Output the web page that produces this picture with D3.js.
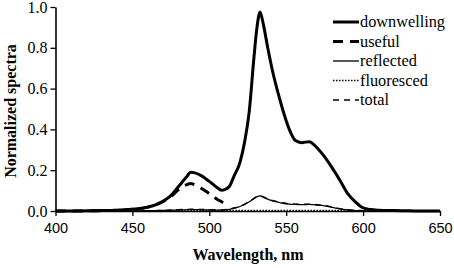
<!DOCTYPE html>
<html>
<head>
<meta charset="utf-8">
<script src="https://cdn.jsdelivr.net/npm/d3@7"></script>
<style>
  body { margin: 0; background: #fff; }
  svg { display: block; }
</style>
</head>
<body>
<div id="chart"></div>
<script>
// wavelength grid (nm) shared by every series
const wavelengths = [400, 410, 420, 430, 440, 450, 455, 460, 465, 470, 475, 480, 485, 488, 490, 495, 500, 505, 508, 510,
  513, 516, 520, 523, 526, 529, 531, 533, 535, 538, 541, 545, 548, 552, 556, 560, 565, 570, 575, 580,
  585, 590, 595, 600, 605, 610, 620, 630, 640, 650];

const downwelling = [0, 0, 0.001, 0.002, 0.004, 0.008, 0.012, 0.019, 0.03, 0.048, 0.075, 0.12, 0.165, 0.19, 0.188, 0.172, 0.145, 0.115, 0.102, 0.105,
  0.12, 0.17, 0.24, 0.34, 0.49, 0.75, 0.9, 0.975, 0.92, 0.8, 0.69, 0.57, 0.49, 0.4, 0.345, 0.335, 0.34, 0.31, 0.265, 0.21,
  0.15, 0.085, 0.045, 0.015, 0.007, 0.004, 0.002, 0.001, 0, 0];

// useful stops at 513 nm
const useful = [0, 0, 0.001, 0.002, 0.004, 0.008, 0.012, 0.019, 0.03, 0.047, 0.07, 0.105, 0.128, 0.135, 0.13, 0.11, 0.085, 0.058, 0.045, 0.036,
  0.025, null, null, null, null, null, null, null, null, null, null, null, null, null, null, null, null, null, null, null,
  null, null, null, null, null, null, null, null, null, null];

const reflected = [0, 0, 0, 0, 0.001, 0.001, 0.001, 0.002, 0.002, 0.003, 0.004, 0.005, 0.006, 0.007, 0.007, 0.006, 0.005, 0.004, 0.004, 0.005,
  0.008, 0.013, 0.022, 0.032, 0.045, 0.06, 0.07, 0.074, 0.068, 0.058, 0.05, 0.043, 0.038, 0.034, 0.032, 0.031, 0.032, 0.029, 0.025, 0.018,
  0.01, 0.005, 0.002, 0.001, 0, 0, 0, 0, 0, 0];

const fluoresced = [0, 0, 0, 0, 0, 0, 0, 0, 0, 0, 0.001, 0.002, 0.002, 0.002, 0.002, 0.002, 0.002, 0.002, 0.002, 0.002,
  0.002, 0.002, 0.002, 0.002, 0.002, 0.002, 0.002, 0.002, 0.002, 0.002, 0.002, 0.002, 0.002, 0.002, 0.002, 0.002, 0.002, 0.002, 0.002, 0.002,
  0.002, 0.002, 0.001, 0.001, 0, 0, 0, 0, 0, 0];

const total = reflected.map((v, i) => v + fluoresced[i]);

const xTicks = [400, 450, 500, 550, 600, 650];
const yTicks = [0, 0.2, 0.4, 0.6, 0.8, 1.0];

const seriesNames = ["downwelling", "useful", "reflected", "fluoresced", "total"];
const seriesValues = [downwelling, useful, reflected, fluoresced, total];

// line styles per series
const styles = {
  downwelling: { w: 3, dash: null },
  useful: { w: 3, dash: "10,7" },
  reflected: { w: 1.3, dash: null },
  fluoresced: { w: 1.5, dash: "1.5,1.5" },
  total: { w: 1.3, dash: "6,5" }
};

const width = 454, height = 268;
const margin = { top: 7, right: 14, bottom: 57, left: 55.5 };

const svg = d3.select("#chart").append("svg")
  .attr("width", width)
  .attr("height", height);

const x = d3.scaleLinear().domain([400, 650]).range([margin.left, width - margin.right]);
const y = d3.scaleLinear().domain([0, 1]).range([height - margin.bottom, margin.top]);

// lines, drawn back to front
const line = d3.line()
  .defined(d => d[1] !== null)
  .x(d => x(d[0]))
  .y(d => y(d[1]))
  .curve(d3.curveMonotoneX);

const order = ["total", "fluoresced", "reflected", "useful", "downwelling"];
order.forEach(name => {
  const vals = seriesValues[seriesNames.indexOf(name)];
  svg.append("path")
    .datum(wavelengths.map((w, i) => [w, vals[i]]))
    .attr("fill", "none")
    .attr("stroke", "#000")
    .attr("stroke-width", styles[name].w)
    .attr("stroke-dasharray", styles[name].dash)
    .attr("stroke-linejoin", "round")
    .attr("d", line);
});

// x axis
const xAxis = svg.append("g")
  .attr("transform", `translate(0,${y(0)})`)
  .call(d3.axisBottom(x).tickValues(xTicks).tickSize(5).tickSizeOuter(0).tickPadding(7));
xAxis.select(".domain").attr("stroke-width", 1.6);
xAxis.selectAll(".tick line").attr("stroke-width", 1.3);
xAxis.selectAll(".tick text")
  .style("font-family", "'Liberation Sans', Arial, sans-serif")
  .style("font-size", "14.5px")
  .attr("fill", "#000");

// y axis
const yAxis = svg.append("g")
  .attr("transform", `translate(${x(400)},0)`)
  .call(d3.axisLeft(y).tickValues(yTicks).tickFormat(d3.format(".1f")).tickSize(5).tickSizeOuter(0).tickPadding(3));
yAxis.select(".domain").attr("stroke-width", 1.6);
yAxis.selectAll(".tick line").attr("stroke-width", 1.3);
yAxis.selectAll(".tick text")
  .style("font-family", "'Liberation Serif', 'Times New Roman', serif")
  .style("font-size", "16px")
  .attr("fill", "#000");

// axis titles
svg.append("text")
  .attr("x", 248)
  .attr("y", 260)
  .attr("text-anchor", "middle")
  .style("font-family", "'Liberation Serif', 'Times New Roman', serif")
  .style("font-size", "16px")
  .style("font-weight", "bold")
  .text("Wavelength, nm");

svg.append("text")
  .attr("transform", `translate(16,${y(0.5) + 2})rotate(-90)`)
  .attr("text-anchor", "middle")
  .style("font-family", "'Liberation Serif', 'Times New Roman', serif")
  .style("font-size", "16px")
  .style("font-weight", "bold")
  .text("Normalized spectra");

// legend
const legend = svg.append("g").attr("transform", "translate(333,22)");
seriesNames.forEach((name, i) => {
  const row = legend.append("g").attr("transform", `translate(0,${i * 19.5})`);
  row.append("line")
    .attr("x1", 0).attr("x2", 26)
    .attr("stroke", "#000")
    .attr("stroke-width", styles[name].w)
    .attr("stroke-dasharray", styles[name].dash);
  row.append("text")
    .attr("x", 27)
    .attr("y", 5)
    .style("font-family", "'Liberation Serif', 'Times New Roman', serif")
    .style("font-size", "16.3px")
    .text(name);
});
</script>
</body>
</html>
